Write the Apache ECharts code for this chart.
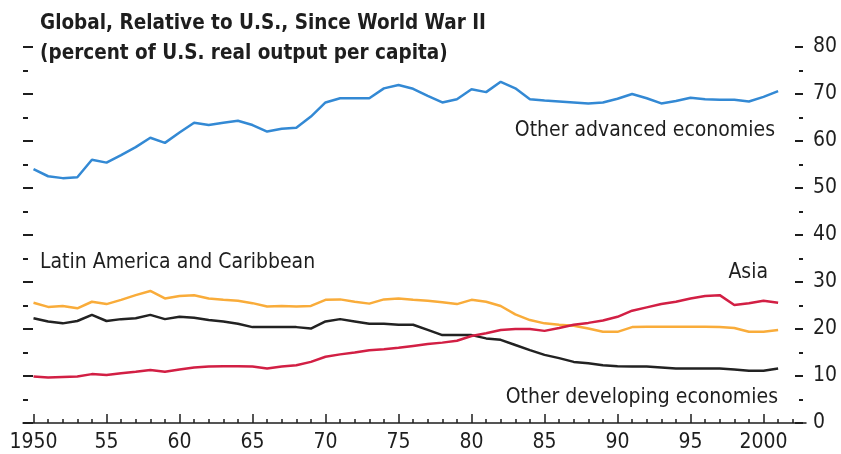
<!DOCTYPE html>
<html>
<head>
<meta charset="utf-8">
<script src="https://cdn.jsdelivr.net/npm/echarts@6/dist/echarts.min.js"></script>
<style>
  html, body { margin: 0; padding: 0; background: #fff; }
  #chart { width: 841px; height: 454px; }
</style>
</head>
<body>
<div id="chart"></div>
<script>
// years on the x axis
var years = [];
for (var y = 1950; y <= 2001; y++) years.push(y);

// percent of U.S. real output per capita
var advanced = [54.0, 52.5, 52.1, 52.3, 56.0, 55.4, 57.0, 58.7, 60.7, 59.6,
    61.8, 63.9, 63.4, 63.9, 64.3, 63.4, 62.0, 62.6, 62.8, 65.2,
    68.2, 69.1, 69.1, 69.1, 71.2, 71.9, 71.1, 69.6, 68.2, 68.9,
    71.0, 70.4, 72.6, 71.2, 68.9, 68.6, 68.4, 68.2, 68.0, 68.2,
    69.0, 70.0, 69.1, 68.0, 68.5, 69.2, 68.9, 68.8, 68.8, 68.4,
    69.4, 70.6];
var latinAmerica = [25.6, 24.7, 24.9, 24.4, 25.8, 25.3, 26.2, 27.2, 28.1, 26.5,
    27.0, 27.2, 26.5, 26.2, 26.0, 25.5, 24.8, 24.9, 24.8, 24.9,
    26.2, 26.3, 25.8, 25.4, 26.3, 26.5, 26.2, 26.0, 25.7, 25.3,
    26.2, 25.8, 24.9, 23.1, 21.9, 21.2, 20.9, 20.7, 20.1, 19.4,
    19.4, 20.4, 20.5, 20.5, 20.5, 20.5, 20.5, 20.4, 20.2, 19.4,
    19.4, 19.8];
var otherDeveloping = [22.3, 21.6, 21.2, 21.7, 23.0, 21.7, 22.1, 22.3, 23.0, 22.1,
    22.6, 22.4, 21.9, 21.6, 21.1, 20.4, 20.4, 20.4, 20.4, 20.1,
    21.6, 22.1, 21.6, 21.1, 21.1, 20.9, 20.9, 19.8, 18.7, 18.7,
    18.7, 18.0, 17.7, 16.6, 15.5, 14.5, 13.8, 13.0, 12.7, 12.3,
    12.1, 12.0, 12.0, 11.8, 11.6, 11.6, 11.6, 11.6, 11.4, 11.1,
    11.1, 11.6];
var asia = [9.9, 9.7, 9.8, 9.9, 10.4, 10.2, 10.6, 10.9, 11.3, 10.9,
    11.4, 11.8, 12.0, 12.1, 12.1, 12.0, 11.6, 12.0, 12.3, 13.0,
    14.1, 14.6, 15.0, 15.5, 15.7, 16.0, 16.4, 16.8, 17.1, 17.5,
    18.5, 19.1, 19.8, 20.0, 20.0, 19.6, 20.2, 20.9, 21.3, 21.8,
    22.6, 23.9, 24.6, 25.3, 25.8, 26.5, 27.0, 27.2, 25.1, 25.5,
    26.0, 25.6];

// tick marks
var majorYears = [1950, 1955, 1960, 1965, 1970, 1975, 1980, 1985, 1990, 1995, 2000];
var yearLabels = ['1950', '55', '60', '65', '70', '75', '80', '85', '90', '95', '2000'];

function pairs(vals) {
    return years.map(function (yr, i) { return [yr, vals[i]]; });
}

var cond = '"DejaVu Sans Condensed", "Liberation Sans", sans-serif';
var ink = '#1e1e1e';

var chart = echarts.init(document.getElementById('chart'));
var option = {
    backgroundColor: '#fff',
    animation: false,
    title: {
        text: 'Global, Relative to U.S., Since World War II\n(percent of U.S. real output per capita)',
        left: 40,
        top: 9,
        padding: 0,
        textStyle: {
            fontFamily: cond,
            fontWeight: 'bold',
            fontSize: 20.5,
            lineHeight: 30,
            color: ink
        }
    },
    grid: {
        left: 23,
        right: 35,
        top: 47,
        bottom: 31,
        containLabel: false
    },
    xAxis: [
        {
            type: 'value',
            position: 'bottom',
            min: 1949.28,
            max: 2002.91,
            axisLine: { show: true, lineStyle: { color: ink, width: 1.5 } },
            axisTick: {
                show: true,
                inside: true,
                length: 9,
                customValues: majorYears,
                lineStyle: { color: ink, width: 1.5 }
            },
            axisLabel: {
                customValues: majorYears,
                margin: 9,
                fontFamily: cond,
                fontSize: 21,
                color: ink,
                formatter: function (v) {
                    return yearLabels[majorYears.indexOf(v)];
                }
            },
            splitLine: { show: false }
        },
        {
            type: 'value',
            position: 'bottom',
            min: 1949.28,
            max: 2002.91,
            axisLine: { show: false },
            axisTick: {
                show: true,
                inside: true,
                length: 4,
                customValues: years.concat([2002]),
                lineStyle: { color: ink, width: 1.5 }
            },
            axisLabel: { show: false },
            splitLine: { show: false }
        }
    ],
    yAxis: [
        {
            type: 'value',
            position: 'right',
            offset: -3,
            min: 0,
            max: 80,
            interval: 10,
            axisLine: { show: false },
            axisTick: { show: true, inside: true, length: 8, lineStyle: { color: ink, width: 2 } },
            minorTick: { show: true, splitNumber: 2, length: 4, lineStyle: { color: ink, width: 2 } },
            axisLabel: { margin: 10, fontFamily: cond, fontSize: 21, color: ink },
            splitLine: { show: false },
            minorSplitLine: { show: false }
        },
        {
            type: 'value',
            position: 'left',
            min: 0,
            max: 80,
            interval: 10,
            axisLine: { show: false },
            axisTick: { show: true, inside: true, length: 10, lineStyle: { color: ink, width: 2 } },
            minorTick: { show: true, splitNumber: 2, length: 5, lineStyle: { color: ink, width: 2 } },
            axisLabel: { show: false },
            splitLine: { show: false },
            minorSplitLine: { show: false }
        }
    ],
    series: [
        {
            name: 'Other advanced economies',
            type: 'line',
            data: pairs(advanced),
            symbol: 'none',
            lineStyle: { color: '#3389d4', width: 2.5 }
        },
        {
            name: 'Latin America and Caribbean',
            type: 'line',
            data: pairs(latinAmerica),
            symbol: 'none',
            lineStyle: { color: '#f9ac3a', width: 2.5 }
        },
        {
            name: 'Other developing economies',
            type: 'line',
            data: pairs(otherDeveloping),
            symbol: 'none',
            lineStyle: { color: '#222222', width: 2.5 }
        },
        {
            name: 'Asia',
            type: 'line',
            data: pairs(asia),
            symbol: 'none',
            lineStyle: { color: '#d21f44', width: 2.5 }
        }
    ],
    graphic: [
        {
            type: 'text', x: 775, y: 131,
            style: { text: 'Other advanced economies', font: '21px ' + cond, fill: ink,
                textAlign: 'right', textVerticalAlign: 'middle' }
        },
        {
            type: 'text', x: 40, y: 263,
            style: { text: 'Latin America and Caribbean', font: '21px ' + cond, fill: ink,
                textAlign: 'left', textVerticalAlign: 'middle' }
        },
        {
            type: 'text', x: 768, y: 273,
            style: { text: 'Asia', font: '21px ' + cond, fill: ink,
                textAlign: 'right', textVerticalAlign: 'middle' }
        },
        {
            type: 'text', x: 778, y: 398,
            style: { text: 'Other developing economies', font: '21px ' + cond, fill: ink,
                textAlign: 'right', textVerticalAlign: 'middle' }
        }
    ]
};
chart.setOption(option);
</script>
</body>
</html>
